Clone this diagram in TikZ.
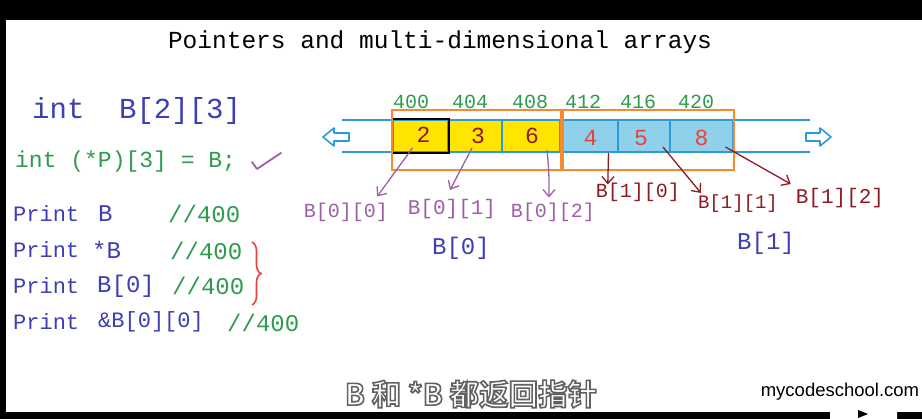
\documentclass[tikz,border=0pt]{standalone}
\usepackage{fontspec}
\setmainfont{Liberation Sans}
\newfontfamily\hw{Liberation Mono}
\newfontfamily\cjk{Noto Sans CJK SC}[BoldFont={Noto Sans CJK SC Bold}]
\usetikzlibrary{arrows.meta,calc,decorations.pathreplacing}
\definecolor{hblue}{HTML}{3E3EB5}
\definecolor{hgreen}{HTML}{2E9B4F}
\definecolor{hpurple}{HTML}{9E5FA8}
\definecolor{hdred}{HTML}{8E1B22}
\definecolor{hred}{HTML}{E8433A}
\definecolor{horange}{HTML}{F58A2E}
\definecolor{lineblue}{HTML}{2C9CD8}
\definecolor{cellblue}{HTML}{8FD0EA}
\definecolor{cellyellow}{HTML}{FFE500}
\begin{document}
\begin{tikzpicture}[x=1pt,y=-1pt,
  hwt/.style={inner sep=0pt, font=\hw\fontsize{#1}{#1}\selectfont},
  cellbox/.style={draw=lineblue, line width=1.4pt, minimum height=32pt, inner sep=0pt},
  obox/.style={draw=horange, line width=2.4pt, minimum height=60pt, inner sep=0pt},
  parr/.style={draw=hpurple, line width=1.3pt, -{Straight Barb[length=7pt,width=12pt]}},
  rarr/.style={draw=hdred, line width=1.3pt, -{Straight Barb[length=7pt,width=12pt]}},
  hollow/.style={draw=lineblue, line width=1.6pt, fill=white, line join=round}
]
\useasboundingbox (0,0) rectangle (922,419);
\fill[white] (0,0) rectangle (922,419);
\fill[black] (0,0) rectangle (922,20);
\fill[black] (0,0) rectangle (6,419);
\fill[black] (0,412) rectangle (922,419);

% title
\node[hwt=24.5] (title) at (440,42) {Pointers and multi-dimensional arrays};

% left code
\node[hwt=29, text=hblue, anchor=west] (decl) at (32,111) {int~~B[2][3]};
\node[hwt=23, text=hgreen, anchor=west] (ptr) at (15,162) {int (*P)[3] = B;};
\draw[hpurple, line width=1.8pt, line join=round, line cap=round] (252,162) -- (257,169) -- (281,153);

\node[hwt=22, text=hblue, anchor=west] (p1) at (13,214) {Print};
\node[hwt=24, text=hblue, anchor=west] (p1a) at (98,214) {B};
\node[hwt=24, text=hgreen, anchor=west] (p1c) at (168,214) {//400};

\node[hwt=22, text=hblue, anchor=west] (p2) at (13,250) {Print};
\node[hwt=24, text=hblue, anchor=west] (p2a) at (92,250) {*B};
\node[hwt=24, text=hgreen, anchor=west] (p2c) at (170,251) {//400};

\node[hwt=22, text=hblue, anchor=west] (p3) at (13,286) {Print};
\node[hwt=24, text=hblue, anchor=west] (p3a) at (97,286) {B[0]};
\node[hwt=24, text=hgreen, anchor=west] (p3c) at (172,286) {//400};

\node[hwt=22, text=hblue, anchor=west] (p4) at (13,322) {Print};
\node[hwt=22, text=hblue, anchor=west] (p4a) at (98,322) {\&B[0][0]};
\node[hwt=24, text=hgreen, anchor=west] (p4c) at (227,323) {//400};

\draw[hred, line width=1.6pt, decorate, decoration={brace, amplitude=9pt}] (252,242) -- (252,305);

% array
\draw[lineblue, line width=1.4pt] (342,120) -- (810,120);
\draw[lineblue, line width=1.4pt] (342,152) -- (810,152);
\draw[hollow] (323,137) -- (334,128) -- (334,133) -- (349,133) -- (349,141) -- (334,141) -- (334,146) -- cycle;
\draw[hollow] (831,137) -- (820,128) -- (820,133) -- (806,133) -- (806,141) -- (820,141) -- (820,146) -- cycle;

\node[cellbox, fill=cellyellow, minimum width=55pt] (c1) at (420.5,136) {};
\node[cellbox, fill=cellyellow, minimum width=54pt] (c2) at (475,136) {};
\node[cellbox, fill=cellyellow, minimum width=58pt] (c3) at (531,136) {};
\node[cellbox, fill=cellblue, minimum width=55pt] (c4) at (590.5,136) {};
\node[cellbox, fill=cellblue, minimum width=52pt] (c5) at (644,136) {};
\node[cellbox, fill=cellblue, minimum width=63pt] (c6) at (701.5,136) {};
\draw[black, line width=1.8pt] (c1.south west) rectangle (c1.north east);

\node[obox, minimum width=169pt] (o1) at (476.5,140) {};
\node[obox, minimum width=171pt] (o2) at (648.5,140) {};

\node[hwt=23, text=hdred] at ($(c1.center)+(3,-1)$) {2};
\node[hwt=23, text=hdred] at ($(c2.center)+(3,0)$) {3};
\node[hwt=23, text=hdred] at ($(c3.center)+(1,0)$) {6};
\node[hwt=23, text=hred] at ($(c4.center)+(0,2)$) {4};
\node[hwt=23, text=hred] at ($(c5.center)+(-3,2)$) {5};
\node[hwt=23, text=hred] at ($(c6.center)+(0,2)$) {8};

% addresses
\node[hwt=20, text=hgreen] (ad1) at (411,102) {400};
\node[hwt=20, text=hgreen] (ad2) at (470,102) {404};
\node[hwt=20, text=hgreen] (ad3) at (530,102) {408};
\node[hwt=20, text=hgreen] (ad4) at (583,102) {412};
\node[hwt=20, text=hgreen] (ad5) at (638,102) {416};
\node[hwt=20, text=hgreen] (ad6) at (696,102) {420};

% element labels
\node[hwt=20, text=hpurple] (l00) at (346,212) {B[0][0]};
\node[hwt=21, text=hpurple] (l01) at (452,209) {B[0][1]};
\node[hwt=20, text=hpurple] (l02) at (553,212) {B[0][2]};
\node[hwt=20, text=hdred] (l10) at (638,192) {B[1][0]};
\node[hwt=19, text=hdred] (l11) at (738,204) {B[1][1]};
\node[hwt=21, text=hdred] (l12) at (840,198) {B[1][2]};
\node[hwt=24, text=hblue] (b0) at (461,248) {B[0]};
\node[hwt=24, text=hblue] (b1) at (766,243) {B[1]};

\draw[parr] ($(c1.center)+(-8,12)$) -- ($(l00.north east)+(-11,-6)$);
\draw[parr] ($(c2.center)+(-3,12)$) -- ($(l01.north)+(-2,-9)$);
\draw[parr] ($(c3.center)+(16,14)$) .. controls ($(c3.center)+(18,35)$) .. ($(l02.north)+(-4,-5)$);
\draw[rarr] ($(c4.center)+(18,17)$) -- ($(l10.north west)+(12,2)$);
\draw[rarr] ($(c5.center)+(19,11)$) -- ($(l11.north west)+(3,-2)$);
\draw[rarr] ($(c6.center)+(24,11)$) -- ($(l12.north west)+(-5,-4)$);

% subtitle (white text with grey outline)
\node[inner sep=0pt, font=\cjk\bfseries\fontsize{29.5}{29.5}\selectfont, text=white] (sub) at (471,394)
  {\special{pdf:code q 2 Tr 1.6 w 0.38 G}B 和 *B 都返回指针\special{pdf:code Q}};

% watermark
\node[inner sep=0pt, font=\fontsize{18.5}{18.5}\selectfont, text=black] (wm) at (840,392) {mycodeschool.com};
\fill[white, rounded corners=6pt] (830,400) rectangle (897,425);
\fill[black] (858,410) -- (868,414) -- (858,418) -- cycle;
\end{tikzpicture}
\end{document}
